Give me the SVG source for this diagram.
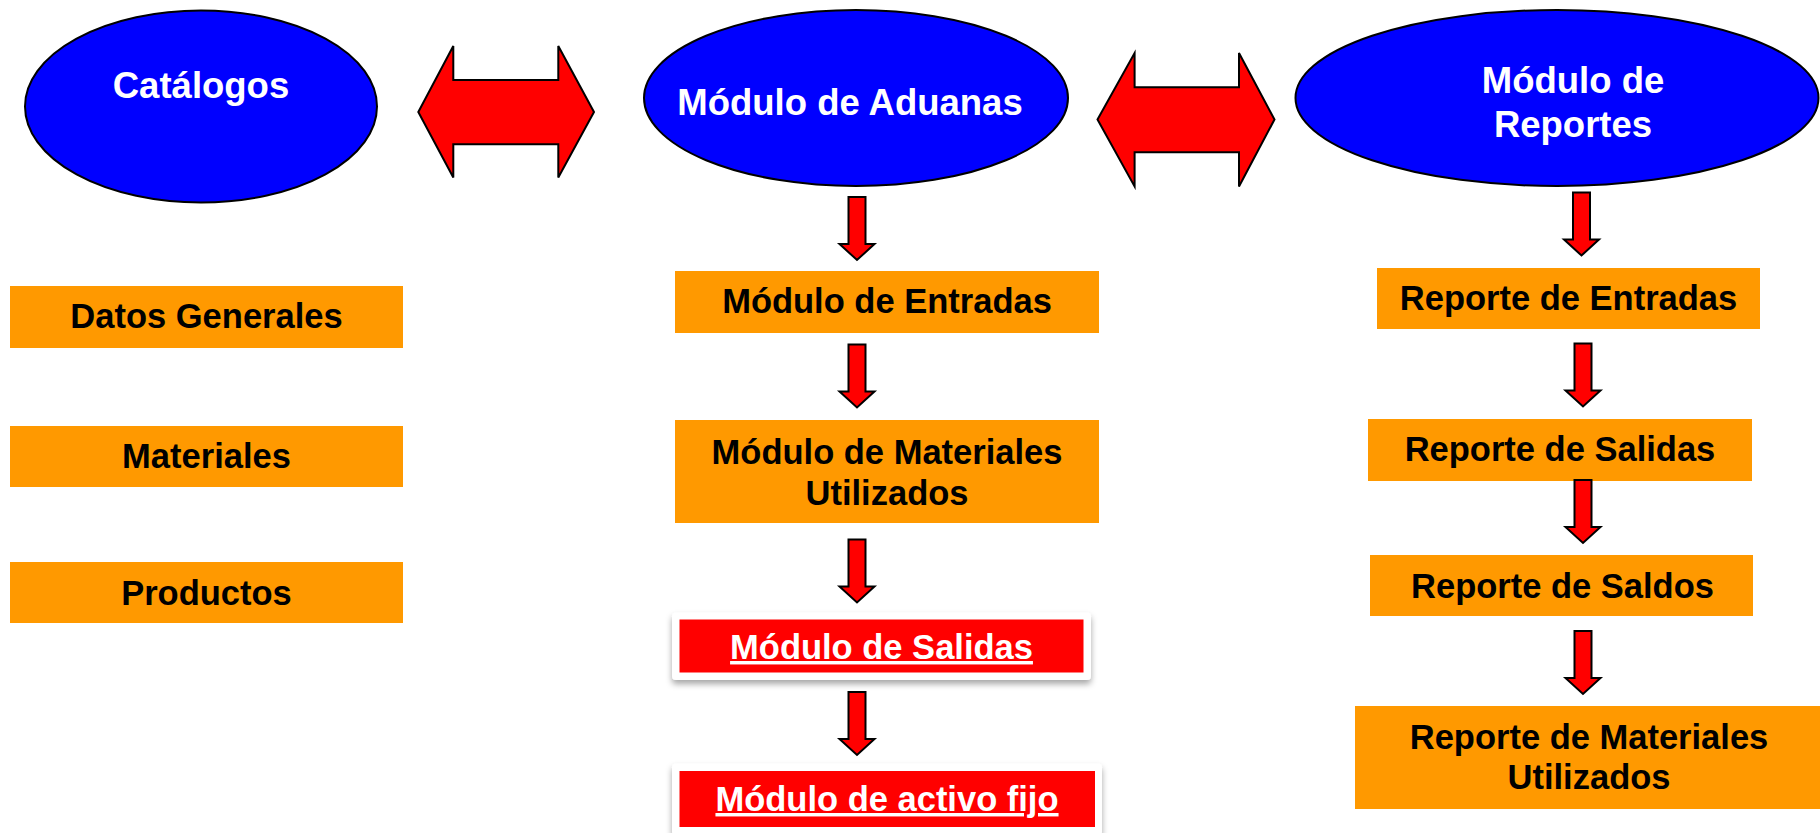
<svg xmlns="http://www.w3.org/2000/svg" width="1820" height="833" viewBox="0 0 1820 833">
<defs>
<style>
.ell{fill:#0000FF;stroke:#000;stroke-width:2}
.box{fill:#FF9900}
.redbox{fill:#FF0000}
.frame{fill:#FFFFFF}
.arr{fill:#FF0000;stroke:#000;stroke-width:2;stroke-linejoin:miter}
.t{font-family:"Liberation Sans",Arial,sans-serif;font-weight:bold;text-anchor:middle}
.te{fill:#FFFFFF;font-size:36.5px}
.tb{fill:#000000;font-size:34.5px}
.tr{fill:#FFFFFF;font-size:34.5px;text-decoration:underline}
</style>
<filter id="sh" x="-5%" y="-20%" width="110%" height="150%">
<feDropShadow dx="0" dy="4" stdDeviation="3" flood-color="#000" flood-opacity="0.35"/>
</filter>
<path id="down" d="M-8.5,0 H8.5 V47 H17.5 L0,63 L-17.5,47 H-8.5 Z"/>
</defs>
<rect width="1820" height="833" fill="#FFFFFF"/>

<g id="catalogos">
<ellipse class="ell" cx="201" cy="106.5" rx="176" ry="96"/>
<text class="t te" x="201" y="98">Catálogos</text>
</g>
<g id="aduanas">
<ellipse class="ell" cx="856" cy="98" rx="212" ry="88"/>
<text class="t te" x="850" y="115">Módulo de Aduanas</text>
</g>
<g id="reportes">
<ellipse class="ell" cx="1557" cy="98" rx="261.5" ry="88"/>
<text class="t te" x="1573" y="93">Módulo de</text>
<text class="t te" x="1573" y="137">Reportes</text>
</g>

<g id="datos-generales">
<rect class="box" x="10" y="286" width="393" height="62"/>
<text class="t tb" x="206.5" y="328">Datos Generales</text>
</g>
<g id="materiales">
<rect class="box" x="10" y="426" width="393" height="61"/>
<text class="t tb" x="206.5" y="468">Materiales</text>
</g>
<g id="productos">
<rect class="box" x="10" y="562" width="393" height="61"/>
<text class="t tb" x="206.5" y="605">Productos</text>
</g>

<g id="modulo-entradas">
<rect class="box" x="675" y="271" width="424" height="62"/>
<text class="t tb" x="887" y="313">Módulo de Entradas</text>
</g>
<g id="modulo-materiales">
<rect class="box" x="675" y="420" width="424" height="103"/>
<text class="t tb" x="887" y="464">Módulo de Materiales</text>
<text class="t tb" x="887" y="505">Utilizados</text>
</g>
<g id="modulo-salidas">
<rect class="frame" x="672" y="612.5" width="419" height="67.5" rx="4" filter="url(#sh)"/>
<rect class="redbox" x="679.5" y="619.5" width="404" height="53"/>
<text class="t tr" x="881.5" y="659">Módulo de Salidas</text>
</g>
<g id="modulo-activo-fijo">
<rect class="frame" x="672" y="763.5" width="430" height="72" rx="4" filter="url(#sh)"/>
<rect class="redbox" x="679.5" y="771" width="415.5" height="56"/>
<text class="t tr" x="887" y="811">Módulo de activo fijo</text>
</g>

<g id="reporte-entradas">
<rect class="box" x="1377" y="268" width="383" height="61"/>
<text class="t tb" x="1568.5" y="310">Reporte de Entradas</text>
</g>
<g id="reporte-salidas">
<rect class="box" x="1368" y="419" width="384" height="62"/>
<text class="t tb" x="1560" y="461">Reporte de Salidas</text>
</g>
<g id="reporte-saldos">
<rect class="box" x="1370" y="555" width="383" height="61"/>
<text class="t tb" x="1562.5" y="598">Reporte de Saldos</text>
</g>
<g id="reporte-materiales">
<rect class="box" x="1355" y="706" width="466" height="103"/>
<text class="t tb" x="1589" y="749">Reporte de Materiales</text>
<text class="t tb" x="1589" y="789">Utilizados</text>
</g>

<g id="connectors">
<polygon class="arr" points="418.3,112 453.3,46 453.3,80 558.3,80 558.3,46 594,112 558.3,177.5 558.3,144.3 453.3,144.3 453.3,177.5"/>
<polygon class="arr" points="1097.5,119.5 1134.6,53 1134.6,87.3 1239,87.3 1239,53 1274.5,119.5 1239,186.5 1239,152.3 1134.6,152.3 1134.6,186.5"/>
<use href="#down" class="arr" x="857" y="197"/>
<use href="#down" class="arr" x="857" y="344.5"/>
<use href="#down" class="arr" x="857" y="539.5"/>
<use href="#down" class="arr" x="857" y="692"/>
<use href="#down" class="arr" x="1581.5" y="192.5"/>
<use href="#down" class="arr" x="1583" y="343.5"/>
<use href="#down" class="arr" x="1583" y="480"/>
<use href="#down" class="arr" x="1583" y="631"/>
</g>
</svg>
